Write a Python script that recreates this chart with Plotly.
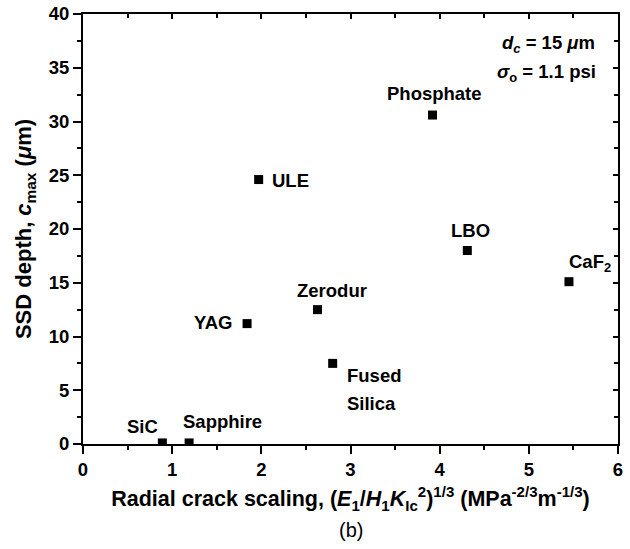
import plotly.graph_objects as go

# Material data: radial crack scaling vs. subsurface damage depth
materials = ["SiC", "Sapphire", "YAG", "ULE", "Zerodur", "Fused Silica",
             "Phosphate", "LBO", "CaF<sub>2</sub>"]
crack_scaling = [0.89, 1.19, 1.84, 1.97, 2.63, 2.80, 3.92, 4.31, 5.45]
ssd_depth = [0.1, 0.1, 11.2, 24.6, 12.5, 7.5, 30.6, 18.0, 15.1]

x_ticks = [0, 1, 2, 3, 4, 5, 6]
y_ticks = [0, 5, 10, 15, 20, 25, 30, 35, 40]

# label placement per material: (xanchor, xshift, yshift) in pixels
label_pos = {
    "SiC": ("center", -20, 16),
    "Sapphire": ("center", 33, 21),
    "YAG": ("right", -13, 1),
    "ULE": ("left", 11, -1),
    "Zerodur": ("center", 14, 19),
    "Fused Silica": ("left", 12, -12),
    "Phosphate": ("center", 2, 22),
    "LBO": ("center", 3, 20),
    "CaF<sub>2</sub>": ("left", -2, 19),
}

FONT = "Liberation Sans, Arial, sans-serif"
LABEL_SIZE = 18.5

fig = go.Figure()
fig.add_trace(go.Scatter(
    x=crack_scaling, y=ssd_depth, mode="markers",
    marker=dict(symbol="square", size=9, color="black"),
    showlegend=False, hoverinfo="skip",
))
# empty trace to carry the mirrored top/right axes
fig.add_trace(go.Scatter(x=[], y=[], xaxis="x2", yaxis="y2",
                         showlegend=False, hoverinfo="skip"))

annotations = []
for name, xv, yv in zip(materials, crack_scaling, ssd_depth):
    anchor, dx, dy = label_pos[name]
    lines = name.split(" ")
    for i, line in enumerate(lines):
        annotations.append(dict(
            x=xv, y=yv, xref="x", yref="y", text=line, showarrow=False,
            xanchor=anchor, yanchor="middle", xshift=dx, yshift=dy - 28 * i,
            font=dict(family=FONT, size=LABEL_SIZE, color="black", weight="bold"),
        ))

annotations += [
    dict(x=0.961, y=0.930, xref="paper", yref="paper", showarrow=False,
         xanchor="right", yanchor="middle",
         text="<i>d<sub>c</sub></i> = 15 <i>μ</i>m",
         font=dict(family=FONT, size=LABEL_SIZE, color="black", weight="bold")),
    dict(x=0.963, y=0.862, xref="paper", yref="paper", showarrow=False,
         xanchor="right", yanchor="middle",
         text="<i>σ</i><sub>o</sub> = 1.1 psi",
         font=dict(family=FONT, size=LABEL_SIZE, color="black", weight="bold")),
    dict(x=0.5, y=-0.2, xref="paper", yref="paper", showarrow=False,
         xanchor="center", yanchor="middle", text="(b)",
         font=dict(family=FONT, size=20, color="black")),
]

axis_common = dict(
    showgrid=False, zeroline=False, showline=True, linewidth=2,
    linecolor="black", automargin=False,
)

fig.update_layout(
    width=630, height=549,
    margin=dict(l=83, r=12, t=14, b=105),
    paper_bgcolor="white", plot_bgcolor="white",
    font=dict(family=FONT, color="black"),
    annotations=annotations,
    xaxis=dict(
        **axis_common, range=[0, 6], tickvals=x_ticks,
        ticks="outside", ticklen=8, tickwidth=2, tickcolor="black",
        minor=dict(ticks="outside", ticklen=4, tickwidth=1.5, dtick=0.5,
                   tickcolor="black"),
        tickfont=dict(family=FONT, size=18.5, weight="bold"),
        ticklabeloverflow="allow",
        title=dict(
            text="Radial crack scaling, (<i>E</i><sub>1</sub>/<i>H</i><sub>1</sub>"
                 "<i>K</i><sub>Ic</sub><sup>2</sup>)<sup>1/3</sup> "
                 "(MPa<sup>-2/3</sup>m<sup>-1/3</sup>)",
            font=dict(family=FONT, size=21.5, weight="bold"), standoff=12),
    ),
    yaxis=dict(
        **axis_common, range=[0, 40], tickvals=y_ticks,
        ticks="outside", ticklen=8, tickwidth=2, tickcolor="black",
        minor=dict(ticks="outside", ticklen=4, tickwidth=1.5, dtick=2.5,
                   tickcolor="black"),
        tickfont=dict(family=FONT, size=18.5, weight="bold"),
        ticklabeloverflow="allow",
        title=dict(text="SSD depth, <i>c</i><sub>max</sub> (<i>μ</i>m)",
                   font=dict(family=FONT, size=22, weight="bold"), standoff=11),
    ),
    xaxis2=dict(
        **axis_common, overlaying="x", side="top", range=[0, 6],
        tickvals=x_ticks, showticklabels=False,
        ticks="inside", ticklen=5, tickwidth=2, tickcolor="black",
        minor=dict(ticks="inside", ticklen=4, tickwidth=1.5, dtick=0.5,
                   tickcolor="black"),
    ),
    yaxis2=dict(
        **axis_common, overlaying="y", side="right", range=[0, 40],
        tickvals=y_ticks, showticklabels=False,
        ticks="inside", ticklen=5, tickwidth=2, tickcolor="black",
        minor=dict(ticks="inside", ticklen=4, tickwidth=1.5, dtick=2.5,
                   tickcolor="black"),
    ),
)

fig.write_html("out.html")
